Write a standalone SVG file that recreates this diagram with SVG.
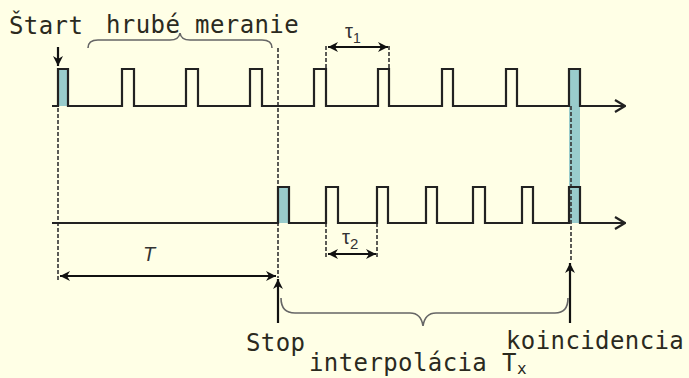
<svg xmlns="http://www.w3.org/2000/svg" width="689" height="378" viewBox="0 0 689 378">
<style>
.sig{fill:none;stroke:#222;stroke-width:2.2;stroke-linejoin:miter}
.teal{fill:#99CCCC}
.dash{fill:none;stroke:#333;stroke-width:1.6;stroke-dasharray:4 2}
.dim{fill:none;stroke:#111;stroke-width:2.2}
.brace{fill:none;stroke:#666;stroke-width:1.6}
.lbl{font-family:"DejaVu Sans Mono",monospace;font-size:24px;letter-spacing:0.4px;fill:#2b2a1e}
.sym{font-family:"Liberation Sans",Arial,sans-serif;fill:#333}
</style>
<defs>
<marker id="chev" viewBox="0 0 12 14" refX="11" refY="7" markerWidth="12" markerHeight="14" markerUnits="userSpaceOnUse" orient="auto">
<path d="M1,1 L11,7 L1,13" fill="none" stroke="#222" stroke-width="2.2"/>
</marker>
<marker id="tri" viewBox="0 0 10 10" refX="10" refY="5" markerWidth="11" markerHeight="10" markerUnits="userSpaceOnUse" orient="auto-start-reverse">
<path d="M0,0 L10,5 L0,10 L3,5 Z" fill="#111"/>
</marker>
</defs>
<rect width="689" height="378" fill="#FFFFE6"/>

<g id="teal-bars">
<rect class="teal" x="58" y="69" width="10" height="37"/>
<rect class="teal" x="278" y="187" width="11" height="36"/>
<rect class="teal" x="569" y="69" width="11" height="154"/>
</g>

<g id="connectors">
<line class="dash" x1="58" y1="108" x2="58" y2="280"/>
<line class="dash" x1="278" y1="48" x2="278" y2="278"/>
<line class="dash" x1="326" y1="46" x2="326" y2="69"/>
<line class="dash" x1="389" y1="46" x2="389" y2="69"/>
<line class="dash" x1="326" y1="223" x2="326" y2="258"/>
<line class="dash" x1="377" y1="223" x2="377" y2="258"/>
<line class="dash" x1="571" y1="106" x2="571" y2="262" stroke="#777" stroke-width="1"/>
<line class="dim" x1="58" y1="47" x2="58" y2="66" marker-end="url(#tri)"/>
<line class="dim" x1="328" y1="47" x2="388" y2="47" marker-start="url(#tri)" marker-end="url(#tri)"/>
<line class="dim" x1="328" y1="254" x2="376" y2="254" marker-start="url(#tri)" marker-end="url(#tri)"/>
<line class="dim" x1="60" y1="276" x2="276" y2="276" marker-start="url(#tri)" marker-end="url(#tri)"/>
<line class="dim" x1="278" y1="323" x2="278" y2="279" marker-end="url(#tri)"/>
<line class="dim" x1="570" y1="323" x2="570" y2="263" marker-end="url(#tri)"/>
<path class="brace" d="M88,48 Q88,40 98,40 H170 Q179,40 180,33 Q181,40 190,40 H262 Q272,40 272,48"/>
<path class="brace" d="M281,298 Q281,313 295,313 H410 Q421,313 423,326 Q425,313 436,313 H555 Q568,313 568,298"/>
</g>

<g id="signal-start">
<path class="sig" d="M52,106 H58 V69 H68 V106 H122 V69 H134 V106 H186 V69 H198 V106 H250 V69 H262 V106 H314 V69 H326 V106 H378 V69 H389 V106 H442 V69 H453 V106 H506 V69 H517 V106 H569 V69 H580 V106 H625" marker-end="url(#chev)"/>
</g>
<g id="signal-stop">
<path class="sig" d="M52,223 H278 V187 H289 V223 H326 V187 H338 V223 H377 V187 H388 V223 H426 V187 H437 V223 H473 V187 H485 V223 H522 V187 H533 V223 H569 V187 H580 V223 H625" marker-end="url(#chev)"/>
</g>

<g id="labels">
<text class="lbl" x="9" y="34">Štart</text>
<text class="lbl" x="106" y="33">hrubé meranie</text>
<text class="lbl" x="246" y="351">Stop</text>
<text class="lbl" x="506" y="349">koincidencia</text>
<text class="lbl" x="309" y="371">interpolácia T<tspan font-size="16" dy="3">x</tspan></text>
<text class="sym" x="345" y="38" font-size="20">τ<tspan font-size="14" dy="5">1</tspan></text>
<text class="sym" x="342" y="244" font-size="20">τ<tspan font-size="15" dy="5">2</tspan></text>
<text class="sym" x="143" y="261" font-size="20" font-style="italic">T</text>
</g>
</svg>
